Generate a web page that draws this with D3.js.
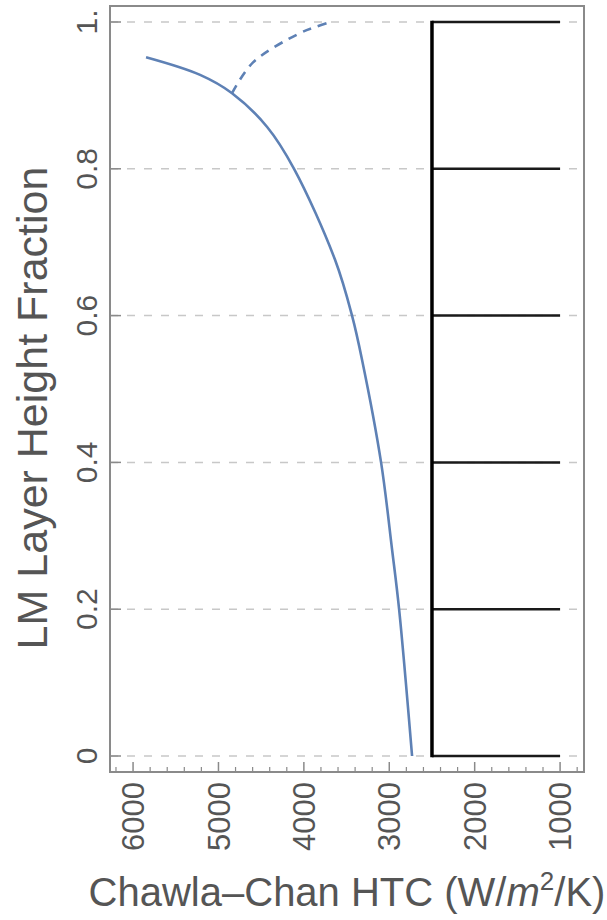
<!DOCTYPE html>
<html>
<head>
<meta charset="utf-8">
<script src="https://cdn.jsdelivr.net/npm/d3@7.9.0/dist/d3.min.js"></script>
<style>
  html, body { margin: 0; padding: 0; background: #fff; }
  svg { display: block; font-family: "Liberation Sans", Arial, sans-serif; }
</style>
</head>
<body>
<div id="chart"></div>
<script>
// solid blue curve (HTC vs layer height fraction)
const htc = [2733, 2885, 2967, 3096, 3319, 3436, 3635, 4115, 4430, 4841, 5215, 5848];
const frac = [0, 0.2, 0.281, 0.4, 0.54, 0.6, 0.676, 0.8, 0.857, 0.903, 0.928, 0.952];

// dashed blue branch
const htcDash = [4841, 4595, 4044, 3869, 3693];
const fracDash = [0.903, 0.945, 0.985, 0.993, 1.0];

// black comb
const combLevels = [0, 0.2, 0.4, 0.6, 0.8, 1];
const combStart = 2500;
const combEnd = 1000;

const xTicks = [6000, 5000, 4000, 3000, 2000, 1000];
const xMinorTicks = d3.range(6200, 799, -200).filter(v => v % 1000 !== 0);
const yTicks = [0, 0.2, 0.4, 0.6, 0.8, 1];
const yTickLabels = ["0", "0.2", "0.4", "0.6", "0.8", "1."];

const width = 607;
const height = 920;

const x = d3.scaleLinear().domain([6270, 720]).range([110, 584]);
const y = d3.scaleLinear().domain([-0.0218, 1.0218]).range([772, 6]);

const svg = d3.select("#chart").append("svg")
  .attr("width", width)
  .attr("height", height);

// gridlines
svg.append("g")
  .selectAll("line")
  .data(yTicks)
  .join("line")
  .attr("x1", x.range()[0])
  .attr("x2", x.range()[1])
  .attr("y1", d => y(d))
  .attr("y2", d => y(d))
  .attr("stroke", "#c8c8c8")
  .attr("stroke-width", 1.5)
  .attr("stroke-dasharray", "8,9");

// blue curve
const line = d3.line()
  .x(d => x(d[0]))
  .y(d => y(d[1]))
  .curve(d3.curveCatmullRom.alpha(0.5));

svg.append("path")
  .datum(d3.zip(htc, frac))
  .attr("d", line)
  .attr("fill", "none")
  .attr("stroke", "#5e81b5")
  .attr("stroke-width", 2.6);

svg.append("path")
  .datum(d3.zip(htcDash, fracDash))
  .attr("d", line)
  .attr("fill", "none")
  .attr("stroke", "#5e81b5")
  .attr("stroke-width", 2.6)
  .attr("stroke-dasharray", "9,7");

// black comb
const comb = svg.append("g").attr("stroke", "#000");
comb.selectAll("line.h")
  .data(combLevels)
  .join("line")
  .attr("class", "h")
  .attr("x1", x(combStart))
  .attr("x2", x(combEnd))
  .attr("y1", d => y(d))
  .attr("y2", d => y(d))
  .attr("stroke", "#1a1a1a")
  .attr("stroke-width", 2.5);
comb.append("line")
  .attr("x1", x(combStart))
  .attr("x2", x(combStart))
  .attr("y1", y(0) + 1.2)
  .attr("y2", y(1) - 1.2)
  .attr("stroke-width", 3.5);

// frame
svg.append("rect")
  .attr("x", x.range()[0])
  .attr("y", y.range()[1])
  .attr("width", x.range()[1] - x.range()[0])
  .attr("height", y.range()[0] - y.range()[1])
  .attr("fill", "none")
  .attr("stroke", "#8a8a8a")
  .attr("stroke-width", 2);

// ticks
const bottom = y.range()[0];
svg.append("g")
  .selectAll("line")
  .data(xTicks)
  .join("line")
  .attr("x1", d => x(d)).attr("x2", d => x(d))
  .attr("y1", bottom).attr("y2", bottom - 10)
  .attr("stroke", "#8a8a8a").attr("stroke-width", 1.5);
svg.append("g")
  .selectAll("line")
  .data(xMinorTicks)
  .join("line")
  .attr("x1", d => x(d)).attr("x2", d => x(d))
  .attr("y1", bottom).attr("y2", bottom - 5)
  .attr("stroke", "#8a8a8a").attr("stroke-width", 1.2);

const left = x.range()[0];
svg.append("g")
  .selectAll("line")
  .data(yTicks)
  .join("line")
  .attr("x1", left).attr("x2", left + 11)
  .attr("y1", d => y(d)).attr("y2", d => y(d))
  .attr("stroke", "#8a8a8a").attr("stroke-width", 1.5);

// tick labels
svg.append("g")
  .selectAll("text")
  .data(xTicks)
  .join("text")
  .attr("transform", d => `translate(${x(d)},782) rotate(-90)`)
  .attr("text-anchor", "end")
  .attr("dy", "0.36em")
  .attr("fill", "#555")
  .attr("font-size", 31)
  .text(d => d);

svg.append("g")
  .selectAll("text")
  .data(yTicks)
  .join("text")
  .attr("transform", d => `translate(86,${y(d)}) rotate(-90)`)
  .attr("text-anchor", "middle")
  .attr("dy", "0.36em")
  .attr("fill", "#555")
  .attr("font-size", 30)
  .text((d, i) => yTickLabels[i]);

// axis titles
const xTitle = svg.append("text")
  .attr("x", (x.range()[0] + x.range()[1]) / 2)
  .attr("y", 906)
  .attr("text-anchor", "middle")
  .attr("fill", "#555")
  .attr("font-size", 40);
xTitle.append("tspan").text("Chawla\u2013Chan HTC (W/");
xTitle.append("tspan").attr("font-style", "italic").text("m");
xTitle.append("tspan").attr("font-size", 26).attr("dy", -16).text("2");
xTitle.append("tspan").attr("dy", 16).text("/K)");

svg.append("text")
  .attr("transform", "translate(47,408) rotate(-90)")
  .attr("text-anchor", "middle")
  .attr("fill", "#555")
  .attr("font-size", 43)
  .text("LM Layer Height Fraction");
</script>
</body>
</html>
